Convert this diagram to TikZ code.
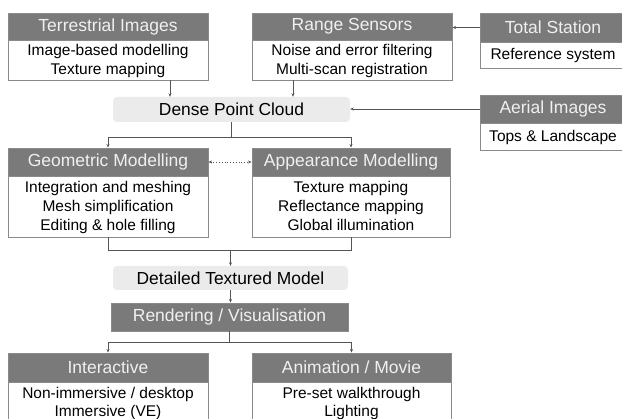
\documentclass[tikz,border=0pt]{standalone}
\usepackage{fontspec}
\setmainfont{Liberation Sans}
\usetikzlibrary{arrows.meta,calc}
\definecolor{hdrgray}{HTML}{7A7A7A}
\definecolor{bordgray}{HTML}{8A8A8A}
\definecolor{softgray}{HTML}{EBEBEB}
\definecolor{hdrtext}{HTML}{F0F0F0}
\definecolor{linegray}{HTML}{555555}
\newcommand\vst{\rule[-4.3pt]{0pt}{18.6pt}}
\begin{document}
\begin{tikzpicture}[x=1pt,y=-1pt,
  hdr/.style={draw=bordgray,fill=hdrgray,text=hdrtext,line width=0.9pt,inner sep=0pt,
    font=\fontsize{17.5}{20}\selectfont,minimum height=28pt},
  bodybox/.style={draw=bordgray,fill=white,line width=0.9pt,inner sep=0pt,align=center,
    font=\fontsize{15.5}{18.7}\selectfont},
  soft/.style={fill=softgray,rounded corners=4pt,inner sep=0pt,
    font=\fontsize{17.4}{20}\selectfont},
  conn/.style={draw=linegray,line width=0.8pt},
  arr/.style={conn,-{Stealth[length=3.5pt,width=3pt]}},
]
\useasboundingbox (0,0) rectangle (622,419);
\clip (0,0) rectangle (622,419);
% top row
\node[hdr,minimum width=200pt,minimum height=27pt] (th) at (108,26.5) {Terrestrial Images};
\node[bodybox,minimum width=200pt,minimum height=40pt] (tb) at (108,60) {\vst Image-based modelling\\\vst Texture mapping};
\node[hdr,minimum width=200pt,minimum height=27pt] (rh) at (352,26.5) {Range Sensors};
\node[bodybox,minimum width=200pt,minimum height=40pt] (rb) at (352,60) {\vst Noise and error filtering\\\vst Multi-scan registration};
\node[hdr,minimum width=146pt,minimum height=29pt] (tsh) at (553,27.5) {Total Station};
\node[bodybox,minimum width=146pt,minimum height=26pt] (tsb) at (553,55) {\vst Reference system};
% dense point cloud
\node[soft,minimum width=237pt,minimum height=25pt] (dpc) at (231.5,109.5) {Dense Point Cloud};
\node[hdr,minimum width=146pt,minimum height=28pt] (aih) at (553,109) {Aerial Images};
\node[bodybox,minimum width=146pt,minimum height=27pt] (aib) at (553,136.5) {\vst Tops \& Landscape};
% modelling
\node[hdr,minimum width=200pt,minimum height=28pt] (gh) at (108,162) {Geometric Modelling};
\node[bodybox,minimum width=200pt,minimum height=61pt] (gb) at (108,206.5) {\vst Integration and meshing\\\vst Mesh simplification\\\vst Editing \& hole filling};
\node[hdr,minimum width=198pt,minimum height=28pt] (aph) at (351,162) {Appearance Modelling};
\node[bodybox,minimum width=198pt,minimum height=61pt] (apb) at (351,206.5) {\vst Texture mapping\\\vst Reflectance mapping\\\vst Global illumination};
% model and rendering
\node[soft,minimum width=235pt,minimum height=24pt] (dtm) at (230.5,278) {Detailed Textured Model};
\node[hdr,minimum width=237pt,minimum height=28pt] (ren) at (229.5,317) {Rendering / Visualisation};
% outputs
\node[hdr,minimum width=200pt,minimum height=29pt] (ih) at (108,367.5) {Interactive};
\node[bodybox,minimum width=200pt,minimum height=41pt] (ib) at (108,402.5) {\vst Non-immersive / desktop\\\vst Immersive (VE)};
\node[hdr,minimum width=199pt,minimum height=29pt] (amh) at (351.5,367.5) {Animation / Movie};
\node[bodybox,minimum width=199pt,minimum height=41pt] (amb) at (351.5,402.5) {\vst Pre-set walkthrough\\\vst Lighting};
% connectors
\draw[arr] ([xshift=62pt]tb.south) -- ([xshift=62pt]tb.south |- dpc.north);
\draw[arr] ([xshift=-59pt]rb.south) -- ([xshift=-59pt]rb.south |- dpc.north);
\draw[arr] (tsh.west) -- (tsh.west -| rh.east);
\draw[arr] (aih.west) -- (aih.west -| dpc.east);
\draw[arr] (dpc.south) -- ++(0,15) -| (gh.north);
\draw[arr] (dpc.south) -- ++(0,15) -| (aph.north);
\draw[conn,dotted,{Stealth[length=3.5pt,width=3pt]}-{Stealth[length=3.5pt,width=3pt]}] (gh.east) -- (aph.west);
\draw[conn] (gb.south) -- ++(0,13) coordinate (j1) -| (apb.south);
\draw[arr] (j1 -| dtm.north) -- (dtm.north);
\draw[arr] (dtm.south) -- (dtm.south |- ren.north);
\draw[arr] (ren.south) -- ++(0,11) -| (ih.north);
\draw[arr] (ren.south) -- ++(0,11) -| (amh.north);
\end{tikzpicture}
\end{document}
